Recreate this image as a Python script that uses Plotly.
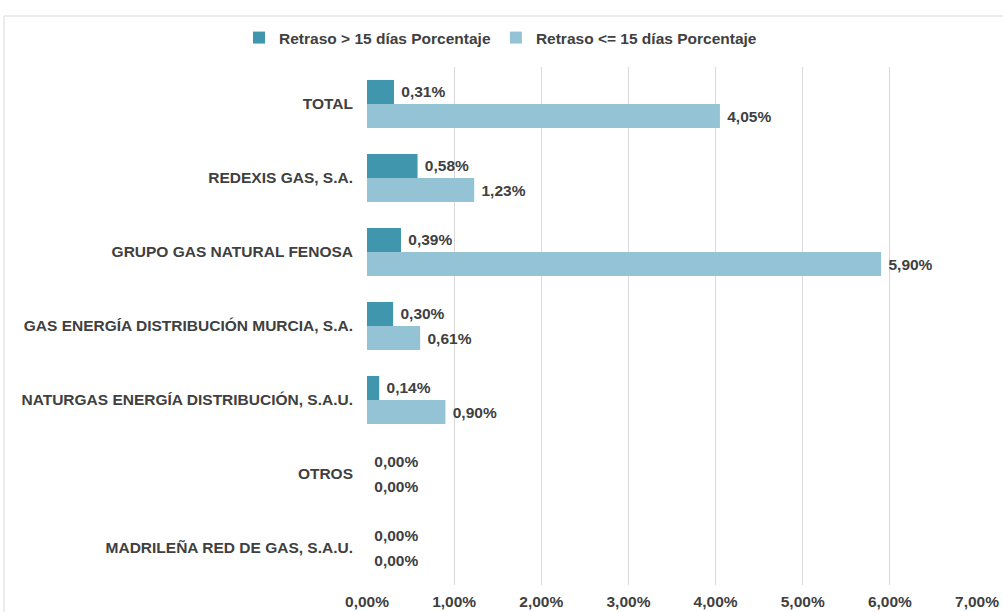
import plotly.graph_objects as go

categories = [
    "TOTAL",
    "REDEXIS GAS, S.A.",
    "GRUPO GAS NATURAL FENOSA",
    "GAS ENERGÍA DISTRIBUCIÓN MURCIA, S.A.",
    "NATURGAS ENERGÍA DISTRIBUCIÓN, S.A.U.",
    "OTROS",
    "MADRILEÑA RED DE GAS, S.A.U.",
]
retraso_mas_15 = [0.0031, 0.0058, 0.0039, 0.0030, 0.0014, 0.0, 0.0]
retraso_menos_15 = [0.0405, 0.0123, 0.0590, 0.0061, 0.0090, 0.0, 0.0]
series_names = ["Retraso > 15 días Porcentaje", "Retraso <= 15 días Porcentaje"]
tick_vals = [0, 0.01, 0.02, 0.03, 0.04, 0.05, 0.06, 0.07]

TXT = "#404040"
FONT = "Liberation Sans, Arial, sans-serif"
FS = 15.5

fig = go.Figure()
fig.add_trace(go.Bar(
    y=categories, x=retraso_mas_15, orientation="h", name=series_names[0],
    marker_color="#4097AD", marker_line_width=0,
    texttemplate=" %{x:.2%}", textposition="outside",
    textfont=dict(family=FONT, size=FS, color=TXT, weight="bold"), cliponaxis=False,
))
fig.add_trace(go.Bar(
    y=categories, x=retraso_menos_15, orientation="h", name=series_names[1],
    marker_color="#93C3D4", marker_line_width=0,
    texttemplate=" %{x:.2%}", textposition="outside",
    textfont=dict(family=FONT, size=FS, color=TXT, weight="bold"), cliponaxis=False,
))

L, R, T, B = 367, 977, 67, 585
W, H = 1003, 612
pw, ph = R - L, B - T


def px2x(p):
    return (p - L) / pw


def px2y(p):
    return (B - p) / ph


fig.update_layout(
    width=W, height=H,
    margin=dict(l=L, r=W - R, t=T, b=H - B, autoexpand=False),
    paper_bgcolor="white", plot_bgcolor="white",
    separators=",.",
    barmode="group", bargap=0.35, bargroupgap=0,
    font=dict(family=FONT, size=FS, color=TXT),
    showlegend=True,
    legend=dict(orientation="h", x=px2x(239), xanchor="left", y=px2y(38), yanchor="middle",
                font=dict(family=FONT, size=FS, color=TXT, weight="bold"), traceorder="normal",
                itemwidth=30, bgcolor="rgba(0,0,0,0)"),
    xaxis=dict(range=[0, 0.07], tickvals=tick_vals, tickformat=".2%",
               showgrid=True, gridcolor="#D9D9D9", gridwidth=1, zeroline=False,
               showline=False, ticks="",
               tickfont=dict(family=FONT, size=FS, color=TXT, weight="bold"),
               ticklabelstandoff=5),
    yaxis=dict(autorange="reversed", showgrid=False, showline=False, ticks="",
               tickfont=dict(family=FONT, size=FS, color=TXT, weight="bold"),
               ticklabelstandoff=13),
    shapes=[dict(type="rect", xref="paper", yref="paper",
                 x0=px2x(4), x1=px2x(1010), y0=px2y(620), y1=px2y(16),
                 line=dict(color="#D9D9D9", width=1), layer="below")],
)

fig.write_html("out.html", config={"displayModeBar": False},
               post_script="document.body.style.margin='0';document.body.style.overflow='hidden';")
